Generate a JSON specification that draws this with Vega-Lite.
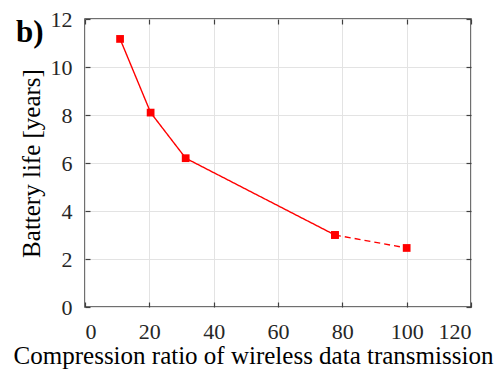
{
  "$schema": "https://vega.github.io/schema/vega-lite/v6.json",
  "autosize": "none",
  "width": 386,
  "height": 288,
  "padding": {"left": 85, "top": 19, "right": 29, "bottom": 64},
  "background": "white",
  "title": {"text": "b)", "anchor": "start", "frame": "group", "font": "Liberation Serif", "fontSize": 31, "fontWeight": "bold", "color": "#000000", "dx": -69, "dy": 41, "baseline": "alphabetic", "offset": -24},
  "config": {
    "font": "Liberation Serif",
    "view": {"stroke": "#404040", "strokeWidth": 1.5},
    "axis": {"labelFont": "Liberation Serif", "titleFont": "Liberation Serif", "labelFontSize": 22, "titleFontSize": 25, "labelColor": "#262626", "titleColor": "#000000", "titleFontWeight": "normal", "gridColor": "#e3e3e3", "gridWidth": 1, "domain": false, "tickColor": "#404040", "tickSize": -5, "tickWidth": 1.2}
  },
  "datasets": {
    "pts": [
      {"ratio": 10.9, "life": 11.17, "seg": "solid"},
      {"ratio": 20.4, "life": 8.1, "seg": "solid"},
      {"ratio": 31.3, "life": 6.2, "seg": "solid"},
      {"ratio": 77.7, "life": 3.0, "seg": "solid"},
      {"ratio": 77.7, "life": 3.0, "seg": "dashed"},
      {"ratio": 100, "life": 2.46, "seg": "dashed"}
    ]
  },
  "data": {"name": "pts"},
  "layer": [
    {
      "mark": {"type": "line", "color": "#ff0000", "strokeWidth": 1.4},
      "encoding": {
        "x": {"field": "ratio", "type": "quantitative", "scale": {"domain": [0, 120], "nice": false, "zero": false}, "axis": {"values": [0, 20, 40, 60, 80, 100, 120], "title": "Compression ratio of wireless data transmission", "labelFont": "Liberation Serif", "labelFontSize": 22, "titleFont": "Liberation Serif", "titleFontSize": 25, "titleAlign": "center", "titleX": 168, "labelPadding": 19, "titlePadding": 1}},
        "y": {"field": "life", "type": "quantitative", "scale": {"domain": [0, 12], "nice": false}, "axis": {"values": [0, 2, 4, 6, 8, 10, 12], "title": "Battery life [years]", "labelFont": "Liberation Serif", "labelFontSize": 22, "titleFont": "Liberation Serif", "titleFontSize": 25, "labelPadding": 18, "titlePadding": 6}},
        "strokeDash": {"field": "seg", "type": "nominal", "scale": {"domain": ["solid", "dashed"], "range": [[1, 0], [6, 4]]}, "legend": null}
      }
    },
    {
      "mark": {"type": "square", "color": "#ff0000", "filled": true, "opacity": 1, "size": 60},
      "encoding": {
        "x": {"field": "ratio", "type": "quantitative", "axis": {"orient": "top", "values": [0, 20, 40, 60, 80, 100, 120], "labels": false, "grid": false, "title": null}},
        "y": {"field": "life", "type": "quantitative", "axis": {"orient": "right", "values": [0, 2, 4, 6, 8, 10, 12], "labels": false, "grid": false, "title": null}}
      }
    }
  ],
  "resolve": {"axis": {"x": "independent", "y": "independent"}}
}
